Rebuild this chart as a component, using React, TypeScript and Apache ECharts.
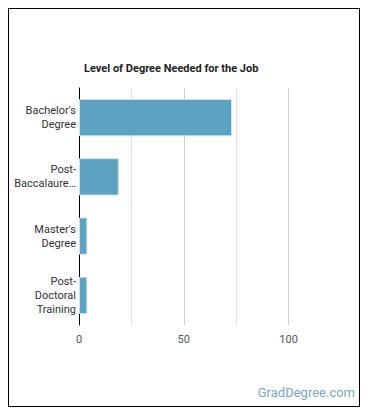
import React, { useEffect, useRef } from "react";
import * as echarts from "echarts";

const categories = ["Bachelor's\nDegree", "Post-\nBaccalaure…", "Master's\nDegree", "Post-\nDoctoral\nTraining"];
const values = [73, 19, 4, 4];
const xTicks = [0, 25, 50, 75, 100, 125];
const title = "Level of Degree Needed for the Job";
const watermark = "GradDegree.com";

export default function App() {
  const ref = useRef<HTMLDivElement>(null);
  useEffect(() => {
    if (!ref.current) return;
    const chart = echarts.init(ref.current, undefined, { renderer: "svg" });
    chart.setOption({
      animation: false,
      title: {
        text: title,
        left: 70,
        top: 49,
        textStyle: { fontFamily: "Roboto", fontSize: 11, fontWeight: "bold", color: "#222" },
      },
      grid: { left: 70, top: 79, bottom: 81, right: 18, containLabel: false },
      xAxis: {
        type: "value",
        min: xTicks[0],
        max: xTicks[xTicks.length - 1],
        interval: 25,
        axisLine: { show: false },
        axisTick: { show: false },
        axisLabel: {
          interval: 1,
          margin: 9,
          color: "#555",
          fontFamily: "Roboto",
          fontSize: 11,
          formatter: (v: number) => (v % 50 === 0 && v <= 100 ? String(v) : ""),
        },
        splitLine: {
          show: true,
          lineStyle: { color: ["#cccccc", "#e2e2e2", "#cccccc", "#e2e2e2", "#cccccc", "rgba(0,0,0,0)"], width: 1 },
        },
      },
      yAxis: {
        type: "category",
        data: categories,
        inverse: true,
        axisLine: { show: true, lineStyle: { color: "#000", width: 1 } },
        axisTick: { show: false },
        axisLabel: {
          margin: 3,
          color: "#333",
          fontFamily: "Roboto",
          fontSize: 11,
          lineHeight: 14,
          align: "right",
        },
      },
      series: [
        {
          type: "bar",
          data: values,
          barCategoryGap: "37%",
          itemStyle: { color: "#5ba3c0", borderColor: "#cfe4ee", borderWidth: 1 },
        },
      ],
      graphic: [
        {
          type: "text",
          right: 4,
          top: 377,
          style: { text: watermark, fill: "#7ba6c2", fontFamily: "Roboto", fontSize: 13 },
        },
      ],
    });
    return () => chart.dispose();
  }, []);
  return (
    <div style={{ width: 350, height: 397, border: "1px solid #000" }}>
      <div ref={ref} style={{ width: 350, height: 397 }} />
    </div>
  );
}
